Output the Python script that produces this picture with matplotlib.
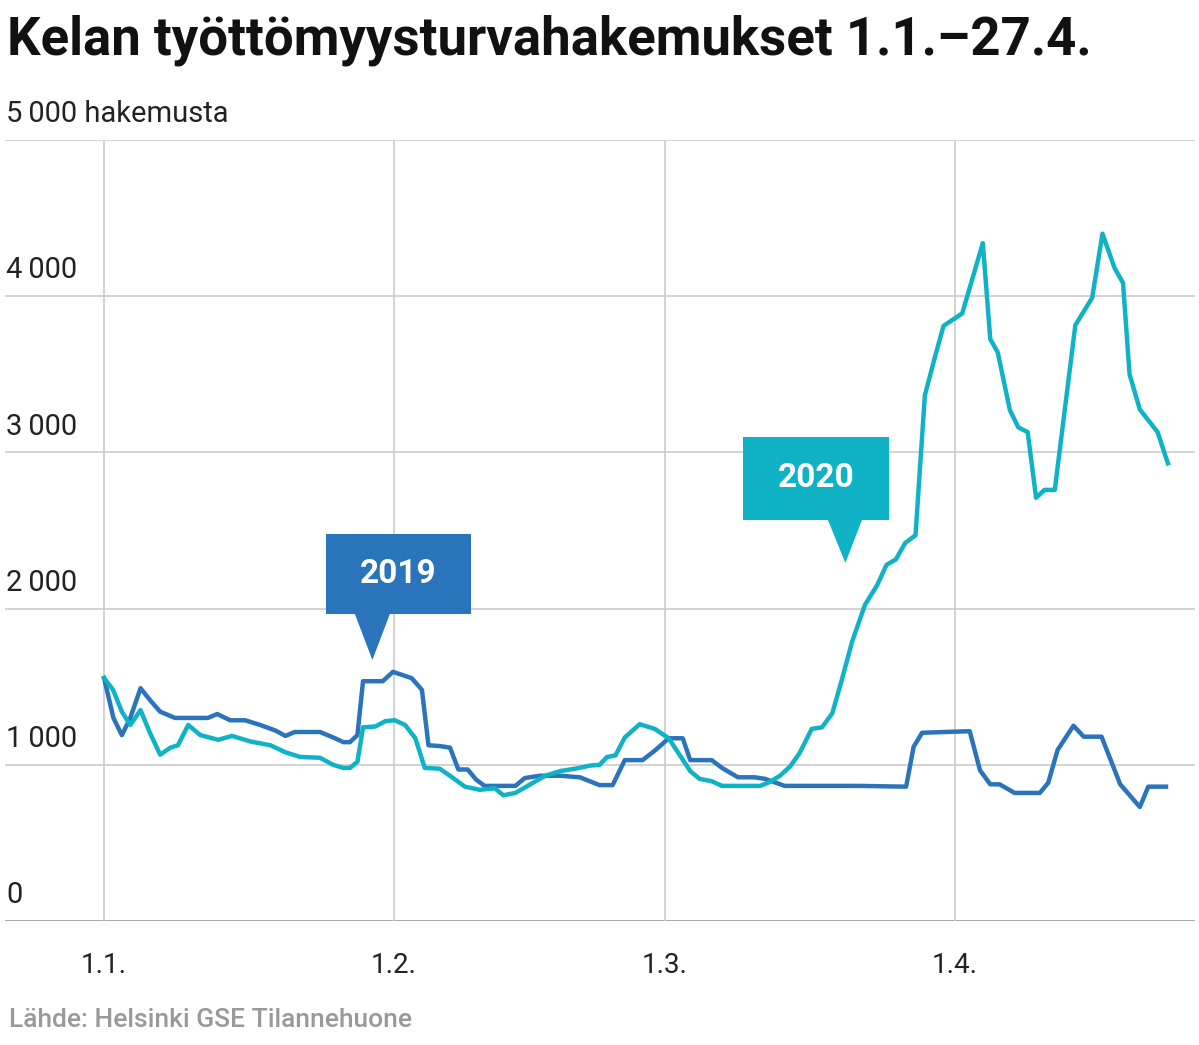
import matplotlib
matplotlib.use("Agg")
import matplotlib.pyplot as plt
from matplotlib.patches import Polygon

plt.rcParams["font.family"] = "Roboto"

# days since 1 Jan
days_2020 = [0,0.96,1.9,2.8,3.9,4.9,6.0,7.1,7.9,9.0,10.3,12.2,13.7,15.6,17.8,19.4,21.0,23.1,24.5,25.6,26.3,27.1,27.7,29.0,30.1,31.1,32.2,33.3,34.3,35.9,37.0,38.6,40.2,41.8,42.7,44.0,45.6,47.2,48.8,50.4,52.0,53.0,53.8,54.7,55.7,57.3,58.9,60.4,61.6,62.7,63.7,65.0,66.1,68.0,70.2,71.2,72.3,73.4,74.4,75.7,76.8,77.9,78.9,80.0,81.4,82.7,83.7,84.7,85.7,86.8,87.8,88.9,89.8,91.8,94.0,94.8,95.6,96.9,97.8,98.8,99.7,100.6,101.7,103.9,105.7,106.8,108.1,109.0,109.7,110.8,112.7,113.8]
vals_2020 = [1555,1480,1340,1255,1350,1205,1065,1110,1125,1255,1190,1160,1185,1150,1125,1080,1050,1045,1000,980,980,1020,1240,1245,1280,1285,1255,1170,980,975,930,860,840,850,805,820,875,930,960,975,995,1000,1050,1060,1175,1260,1230,1170,1060,960,910,895,865,865,865,890,930,990,1075,1230,1240,1330,1540,1785,2025,2150,2280,2315,2420,2470,3365,3615,3810,3890,4340,3725,3640,3270,3160,3130,2710,2760,2760,3815,3990,4400,4180,4085,3500,3275,3130,2930]

days_2019 = [0,1.0,1.9,2.8,3.9,4.9,6.0,7.6,9.7,11.1,12.1,13.5,15.1,16.7,18.3,19.4,20.4,23.1,24.7,25.6,26.3,27.1,27.7,29.0,29.8,30.9,31.9,32.9,34.0,34.7,35.9,37.0,37.9,38.9,39.8,40.7,42.4,44.0,45.0,46.6,48.8,50.9,53.0,54.4,55.7,57.6,59.0,60.4,61.9,62.7,65.0,66.1,67.8,69.6,70.7,72.8,76.6,80.9,85.8,86.6,87.5,89.9,92.6,93.7,94.8,95.8,97.4,100.1,101.0,102.0,103.7,104.8,106.7,108.7,110.8,111.7,113.6]
vals_2019 = [1555,1300,1190,1300,1490,1415,1340,1300,1300,1300,1325,1285,1285,1255,1220,1185,1210,1210,1170,1145,1145,1190,1535,1535,1535,1595,1575,1555,1480,1125,1120,1110,970,970,905,865,865,865,915,930,930,920,870,870,1030,1030,1095,1170,1170,1030,1030,980,920,920,910,865,865,865,860,1115,1205,1210,1215,965,875,875,820,820,885,1095,1250,1180,1180,875,730,860,860]

month_days = [0, 31, 60, 91]
month_labels = ["1.1.", "1.2.", "1.3.", "1.4."]
y_ticks = [0, 1000, 2000, 3000, 4000, 5000]
y_labels = ["0", "1\u2009000", "2\u2009000", "3\u2009000", "4\u2009000", "5\u2009000 hakemusta"]

BLUE = "#2a74bb"
CYAN = "#0fb3c5"

fig = plt.figure(figsize=(11.99, 10.45), dpi=100)
ax = fig.add_axes([5/1199, 1-921/1045, 1190/1199, 781/1045])
ax.set_xlim(-10.6, 116.7)
ax.set_ylim(0, 5000)
for s in ax.spines.values():
    s.set_visible(False)
ax.set_xticks([]); ax.set_yticks([])
for v in y_ticks:
    ax.axhline(v, color="#cccccc" if v else "#999999", lw=1.2, zorder=0)
for d, lab in zip(month_days, month_labels):
    ax.axvline(d, color="#cccccc", lw=1.2, zorder=0)
    ax.text(d, -200, lab, ha="center", va="top", fontsize=20, color="#222222")
for v, lab in zip(y_ticks, y_labels):
    ax.text(-10.5, v + 75, lab, ha="left", va="bottom", fontsize=21, color="#222222")

ax.plot(days_2019, vals_2019, color=BLUE, lw=3.2, zorder=3, solid_joinstyle="round")
ax.plot(days_2020, vals_2020, color=CYAN, lw=3.2, zorder=4, solid_joinstyle="round")

def callout(x0, x1, y0, y1, bx0, bx1, tip, color, label):
    ax.add_patch(Polygon([(x0, y0), (x1, y0), (x1, y1), (x0, y1)], closed=True, color=color, zorder=5, lw=0))
    ax.add_patch(Polygon([(bx0, y0 + 5), (bx1, y0 + 5), tip], closed=True, color=color, zorder=5, lw=0))
    ax.text((x0 + x1) / 2, (y0 + y1) / 2, label, ha="center", va="center", color="white",
            fontsize=24, fontweight="bold", zorder=6)

callout(23.7, 39.3, 1965, 2478, 26.8, 30.6, (28.7, 1671), BLUE, "2019")
callout(68.3, 84.0, 2567, 3099, 77.4, 81.1, (79.3, 2292), CYAN, "2020")

fig.text(7/1199, 1-40/1045, "Kelan työttömyysturvahakemukset 1.1.–27.4.", fontsize=38,
         fontweight="bold", va="center", ha="left", color="#111111")
fig.text(9/1199, 1-1020/1045, "Lähde: Helsinki GSE Tilannehuone", fontsize=19,
         fontweight="medium", color="#999999", va="center", ha="left")

fig.savefig("out.png", dpi=100)
